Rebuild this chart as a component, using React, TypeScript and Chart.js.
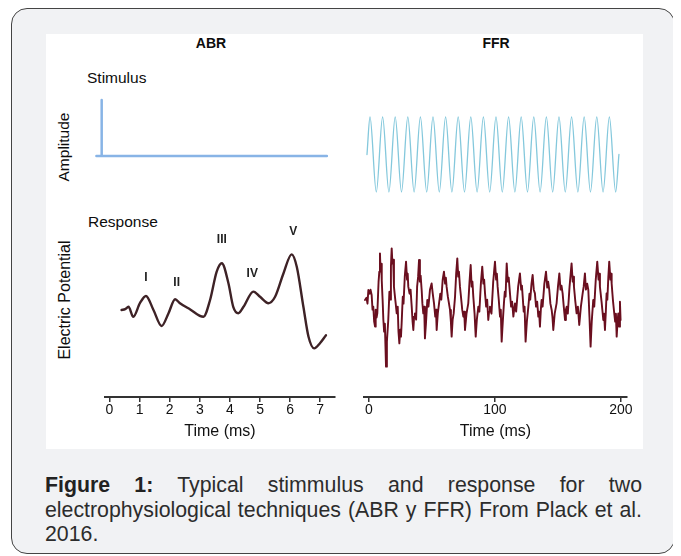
import React, { useEffect, useRef } from "react";
import { Chart, registerables } from "chart.js";

Chart.register(...registerables);

const FONT = "'Liberation Sans', Arial, Helvetica, sans-serif";

// ---------- DATA ----------
// ABR stimulus (click), time in ms, relative amplitude
const abrStimTimes = [-0.42, -0.26, -0.25, -0.24, 7.23];
const abrStimValues = [0, 0, 1, 0, 0];

// FFR stimulus (100 Hz tone), extrema of the waveform, time in ms
const ffrStimTimes = [
  -1.6, 0.8, 5.8, 10.8, 15.8, 20.8, 25.8, 30.8, 35.8, 40.8, 45.8,
  50.8, 55.8, 60.8, 65.8, 70.8, 75.8, 80.8, 85.8, 90.8, 95.8,
  100.8, 105.8, 110.8, 115.8, 120.8, 125.8, 130.8, 135.8, 140.8, 145.8,
  150.8, 155.8, 160.8, 165.8, 170.8, 175.8, 180.8, 185.8, 190.8, 195.8, 198.4,
];
const ffrStimValues = [
  0, 1, -1, 1, -1, 1, -1, 1, -1, 1, -1,
  1, -1, 1, -1, 1, -1, 1, -1, 1, -1,
  1, -1, 1, -1, 1, -1, 1, -1, 1, -1,
  1, -1, 1, -1, 1, -1, 1, -1, 1, -1, 0,
];

// ABR response, time in ms, potential (arbitrary units)
const abrRespTimes = [
  0.4, 0.52, 0.63, 0.79, 1.01, 1.21, 1.46, 1.73, 1.96, 2.18,
  2.34, 2.67, 3.12, 3.34, 3.56, 3.73, 3.95, 4.11, 4.28, 4.45,
  4.78, 5.0, 5.28, 5.5, 5.78, 6.05, 6.22, 6.44, 6.61, 6.8,
  6.99, 7.19,
];
const abrRespValues = [
  0.25, 0.27, 0.33, 0.08, 0.42, 0.6, 0.25, -0.15, 0.17, 0.52,
  0.42, 0.27, 0.08, 0.5, 1.21, 1.42, 0.92, 0.33, 0.17, 0.33,
  0.71, 0.58, 0.42, 0.58, 1.17, 1.64, 1.33, 0.33, -0.42, -0.71,
  -0.58, -0.38,
];
const abrWaveLabels = ["I", "II", "III", "IV", "V"];
const abrWaveLabelTimes = [1.21, 2.23, 3.73, 4.74, 6.1];
const abrWaveLabelValues = [1.05, 0.93, 2.0, 1.15, 2.21];

// FFR response, time in ms, potential (arbitrary units)
const ffrRespTimes = [
  -3.2, -2.0, -1.2, -0.5, 0.6, 1.2, 2.1, 2.8, 3.4, 4.1,
  4.8, 5.3, 6.0, 6.6, 7.6, 8.2, 8.7, 9.2, 9.6, 10.1,
  10.8, 11.4, 12.0, 12.6, 13.5, 14.2, 15.3, 16.2, 16.8, 17.4,
  18.0, 18.6, 19.2, 19.8, 20.6, 21.2, 22.0, 22.8, 23.4, 24.1,
  24.8, 25.4, 25.9, 26.8, 27.4, 28.4, 29.4, 30.2, 30.7, 31.2,
  32.2, 33.0, 33.9, 34.6, 35.2, 35.8, 36.5, 37.4, 38.2, 39.0,
  39.7, 40.4, 41.0, 41.8, 42.4, 43.1, 43.8, 44.4, 45.3, 46.3,
  47.2, 48.4, 49.7, 50.6, 51.6, 52.6, 53.2, 53.7, 54.6, 55.6,
  56.6, 57.4, 58.5, 59.5, 60.4, 61.0, 61.6, 62.6, 63.5, 64.3,
  65.0, 65.6, 66.4, 67.2, 68.3, 69.2, 70.1, 70.8, 71.4, 72.2,
  73.0, 74.0, 74.9, 75.6, 76.2, 77.4, 78.8, 79.8, 80.7, 81.5,
  82.1, 82.8, 83.8, 84.7, 85.6, 86.8, 87.6, 88.8, 89.9, 90.8,
  91.4, 92.1, 93.0, 93.8, 94.7, 95.3, 96.0, 97.2, 98.6, 100.0,
  100.9, 101.5, 102.1, 103.0, 104.0, 104.6, 105.3, 106.2, 107.1, 107.8,
  108.4, 109.3, 110.2, 110.9, 111.9, 112.8, 113.6, 114.6, 115.2, 115.9,
  116.8, 118.4, 119.8, 120.8, 121.4, 122.0, 122.8, 123.5, 124.3, 125.3,
  126.5, 127.4, 128.0, 129.0, 129.9, 130.8, 131.7, 132.6, 133.5, 134.4,
  135.0, 135.7, 136.4, 137.0, 137.8, 139.2, 140.5, 141.5, 142.2, 143.1,
  144.0, 145.0, 145.6, 146.3, 147.4, 148.9, 150.0, 151.1, 152.0, 152.8,
  153.7, 154.6, 155.6, 156.3, 156.9, 157.8, 159.2, 160.8, 161.7, 162.2,
  162.7, 163.8, 164.8, 165.8, 166.9, 168.2, 169.6, 170.4, 171.4, 172.2,
  173.2, 174.1, 175.0, 175.9, 176.8, 178.0, 178.8, 180.0, 181.2, 182.2,
  182.8, 183.3, 184.6, 186.0, 186.6, 187.3, 188.0, 188.6, 189.2, 190.0,
  190.7, 191.6, 192.1, 192.6, 193.6, 194.4, 195.4, 196.0, 196.6, 197.3,
  197.9, 198.6, 199.2, 199.7,
];
const ffrRespValues = [
  1.7, 4, -2, 11.7, 8, 12, 6.7, -8, -5, -20,
  -25, -8, -16, -11.7, 20, 30, 48.3, 30, 38, 21.7,
  2, -18.3, -30, -22, -65, -40, -18.3, 10, 2, 35,
  53.3, 38, 42, 15, 5, -2, -11.7, -5, -30, -41.7,
  -28, -35, -21.7, 5, -2, 25, 40, 22, 28, 15,
  8, 12, -5, -20, -28.3, -15, -11.7, -18, 15, 25,
  41.7, 20, 26, 11.7, -2, -11.7, -5, -36.7, -20, 1.7,
  -5, 12, 18.3, 8, -1.7, -15, -8, -28.3, -12, -1.7,
  8, 2, 22, 30, 18, 24, 15, 5, -2, -8.3,
  -20, -35, -18, -12, 5, 28, 43.3, 25, 30, 15,
  5, -8, -15, -10, -28.3, -12, -1.7, 20, 36.7, 15,
  20, 5, -12, -35, -18, -5, -10, 18, 35, 18,
  22, 8.3, -5, 2, -18.3, -10, -5, -12, 20, 40,
  22, 28, 15, 2, -15, -8, -40, -20, -1.7, 10,
  5, 38.3, 20, 24, 8.3, -5, 0, -15, -8, -1.7,
  -10, 15, 28.3, 12, 16, 5, -10, -5, -40, -20,
  -5, 8, 2, 18, 26.7, 12, 8.3, -5, 0, -15,
  -10, -25, -8, 1.7, -5, 18, 30, 14, 20, 11.7,
  -2, -8.3, -15, -28.3, -12, -1.7, 15, 28.3, 12, 16,
  8.3, -5, -18.3, -8, -5, -12, 15, 38.3, 20, 25,
  15, 0, -11.7, -5, -23.3, -5, 8.3, 15, 28.3, 12,
  18, 11.7, -15, -45, -20, 1.7, -5, 22, 40, 22,
  28, 15, 0, -18.3, -12, -28.3, -10, 8.3, 2, 25,
  40, 22, 28, 18.3, 2, -8.3, -20, -12, -35, -20,
  -11.7, -25, 0, -18.3,
];

const abrTicks = [0, 1, 2, 3, 4, 5, 6, 7];
const ffrTicks = [0, 100, 200];

// ---------- HELPERS ----------
function pts(xs: number[], ys: number[]) {
  return xs.map((x, i) => ({ x, y: ys[i] }));
}

type Cfg = {
  datasets: any[];
  xMin: number;
  xMax: number;
  yMin: number;
  yMax: number;
  ticks?: number[];
  padding?: any;
  plugins?: any[];
};

function makeConfig(c: Cfg): any {
  const showX = !!c.ticks;
  return {
    type: "line",
    data: { datasets: c.datasets },
    plugins: c.plugins || [],
    options: {
      animation: false,
      responsive: false,
      devicePixelRatio: 1,
      events: [],
      layout: { padding: c.padding || 0 },
      plugins: {
        legend: { display: false },
        tooltip: { enabled: false },
        title: { display: false },
      },
      scales: {
        x: {
          type: "linear",
          min: c.xMin,
          max: c.xMax,
          display: showX,
          position: "bottom",
          afterBuildTicks: (s: any) => {
            if (c.ticks) s.ticks = c.ticks.map((v) => ({ value: v }));
          },
          ticks: {
            padding: 0,
            autoSkip: false,
            maxRotation: 0,
            color: "#111",
            font: { family: FONT, size: 14, lineHeight: "16px" },
            callback: (v: any) => String(v),
          },
          grid: {
            display: true,
            drawOnChartArea: false,
            drawTicks: true,
            tickLength: 5,
            color: "#333",
            lineWidth: 1.5,
          },
          border: { display: true, color: "#333", width: 2 },
          title: {
            display: true,
            text: "Time (ms)",
            color: "#111",
            font: { family: FONT, size: 16, lineHeight: "18px" },
            padding: { top: 5, bottom: 0 },
          },
        },
        y: { type: "linear", min: c.yMin, max: c.yMax, display: false },
      },
    },
  };
}

function lineDs(xs: number[], ys: number[], color: string, width: number, smooth: boolean) {
  return {
    data: pts(xs, ys),
    borderColor: color,
    borderWidth: width,
    pointRadius: 0,
    fill: false,
    clip: false,
    tension: 0,
    cubicInterpolationMode: smooth ? "monotone" : "default",
    borderJoinStyle: "round",
    borderCapStyle: "round",
  };
}

const waveLabelPlugin = {
  id: "waveLabels",
  afterDatasetsDraw(chart: any) {
    const { ctx, scales } = chart;
    ctx.save();
    ctx.font = `bold 12px ${FONT}`;
    ctx.fillStyle = "#222";
    ctx.textAlign = "center";
    ctx.textBaseline = "middle";
    abrWaveLabels.forEach((lab, i) => {
      ctx.fillText(
        lab,
        scales.x.getPixelForValue(abrWaveLabelTimes[i]),
        scales.y.getPixelForValue(abrWaveLabelValues[i])
      );
    });
    ctx.restore();
  },
};

function Panel(props: { left: number; top: number; width: number; height: number; build: () => any }) {
  const ref = useRef<HTMLCanvasElement>(null);
  useEffect(() => {
    const chart = new Chart(ref.current as HTMLCanvasElement, props.build());
    return () => chart.destroy();
  }, []);
  return (
    <canvas
      ref={ref}
      width={props.width}
      height={props.height}
      style={{
        position: "absolute",
        left: props.left,
        top: props.top,
        width: props.width,
        height: props.height,
      }}
    />
  );
}

const labelStyle: React.CSSProperties = {
  position: "absolute",
  fontFamily: FONT,
  color: "#0d0d0d",
  whiteSpace: "nowrap",
  lineHeight: 1,
};

export default function App() {
  return (
    <div style={{ position: "relative", width: 668, height: 548, fontFamily: FONT }}>
      <div
        style={{
          position: "absolute",
          left: 3,
          top: 0,
          width: 664,
          height: 546,
          boxSizing: "border-box",
          border: "1px solid #444",
          borderRadius: 16,
          background: "#f1f2f4",
        }}
      />
      <div style={{ position: "absolute", left: 38, top: 26, width: 597, height: 415, background: "#fff" }} />

      <div style={{ ...labelStyle, left: 203, top: 35, transform: "translate(-50%,-50%)", fontWeight: "bold", fontSize: 14 }}>ABR</div>
      <div style={{ ...labelStyle, left: 488, top: 35, transform: "translate(-50%,-50%)", fontWeight: "bold", fontSize: 14 }}>FFR</div>
      <div style={{ ...labelStyle, left: 79, top: 70, transform: "translateY(-50%)", fontSize: 15.5 }}>Stimulus</div>
      <div style={{ ...labelStyle, left: 80, top: 214, transform: "translateY(-50%)", fontSize: 15.5 }}>Response</div>
      <div style={{ ...labelStyle, left: 56, top: 139, transform: "translate(-50%,-50%) rotate(-90deg)", fontSize: 15.5 }}>Amplitude</div>
      <div style={{ ...labelStyle, left: 57, top: 292, transform: "translate(-50%,-50%) rotate(-90deg)", fontSize: 16 }}>Electric Potential</div>

      <Panel
        left={86}
        top={82}
        width={241}
        height={80}
        build={() =>
          makeConfig({
            datasets: [lineDs(abrStimTimes, abrStimValues, "#88b4e6", 2.5, false)],
            xMin: -0.5,
            xMax: 7.5,
            yMin: -0.25,
            yMax: 1.179,
          })
        }
      />
      <Panel
        left={356}
        top={97}
        width={263}
        height={100}
        build={() =>
          makeConfig({
            datasets: [lineDs(ffrStimTimes, ffrStimValues, "#84c8dc", 1.3, true)],
            xMin: -3.97,
            xMax: 204.8,
            yMin: -1.347,
            yMax: 1.32,
          })
        }
      />
      <Panel
        left={77}
        top={212}
        width={270}
        height={221}
        build={() =>
          makeConfig({
            datasets: [
              lineDs(abrRespTimes, abrRespValues, "#3e2226", 2.4, true),
              lineDs(abrRespTimes, abrRespValues, "#a8848a", 0.7, true),
            ],
            xMin: -0.15,
            xMax: 7.49,
            yMin: -1.925,
            yMax: 2.5,
            ticks: abrTicks,
            padding: { left: 20, right: 20, top: 0, bottom: 0 },
            plugins: [waveLabelPlugin],
          })
        }
      />
      <Panel
        left={336}
        top={212}
        width={303}
        height={221}
        build={() =>
          makeConfig({
            datasets: [
              lineDs(ffrRespTimes, ffrRespValues, "#6a0f1f", 1.9, false),
              lineDs(ffrRespTimes, ffrRespValues, "#cf8f9c", 0.5, false),
            ],
            xMin: -3.97,
            xMax: 204.8,
            yMin: -95.33,
            yMax: 81.67,
            ticks: ffrTicks,
            padding: { left: 20, right: 20, top: 0, bottom: 0 },
          })
        }
      />

      <div
        style={{
          position: "absolute",
          left: 37,
          top: 465.4,
          width: 597,
          fontFamily: FONT,
          fontSize: 21.3,
          lineHeight: "24.5px",
          color: "#2c2c2c",
          textAlign: "justify",
        }}
      >
        <b style={{ color: "#222" }}>Figure 1:</b> Typical stimmulus and response for two
        electrophysiological techniques (ABR y FFR) From Plack et al. 2016.
      </div>
    </div>
  );
}
